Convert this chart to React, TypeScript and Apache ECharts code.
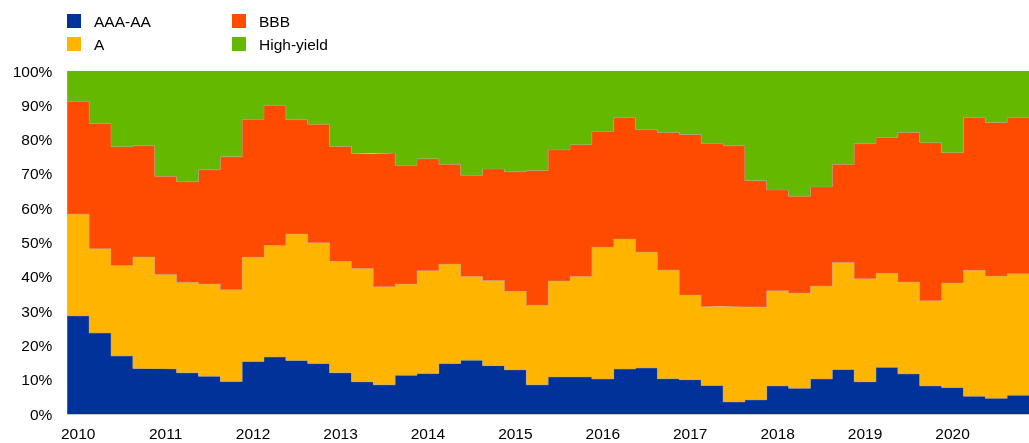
import React, { useEffect, useRef } from "react";
import * as echarts from "echarts";

const quarters: string[] = [];
for (let y = 2010; y <= 2020; y++) for (let q = 1; q <= 4; q++) quarters.push(`${y} Q${q}`);

const aaaAA = [28.6, 23.6, 16.9, 13.3, 13.1, 12.0, 11.0, 9.5, 15.3, 16.6, 15.6, 14.7, 12.0, 9.4, 8.5, 11.3, 11.8, 14.7, 15.7, 14.1, 12.9, 8.5, 10.8, 10.8, 10.2, 13.1, 13.4, 10.3, 10.0, 8.3, 3.5, 4.1, 8.2, 7.5, 10.2, 13.0, 9.4, 13.6, 11.7, 8.2, 7.7, 5.2, 4.6, 5.5];
const ratedA = [29.7, 24.6, 26.4, 32.5, 27.6, 26.4, 26.9, 26.7, 30.4, 32.5, 36.9, 35.2, 32.5, 33.0, 28.6, 26.6, 30.0, 29.0, 24.4, 24.8, 22.9, 23.2, 28.0, 29.3, 38.4, 37.9, 33.8, 31.7, 24.7, 23.0, 27.9, 27.1, 27.7, 27.8, 27.1, 31.2, 30.0, 27.4, 26.8, 24.8, 30.5, 36.7, 35.6, 35.4];
const bbb = [32.9, 36.5, 34.6, 32.4, 28.6, 29.3, 33.3, 38.8, 40.2, 40.9, 33.3, 34.6, 33.5, 33.5, 39.0, 34.6, 32.6, 29.1, 29.5, 32.5, 34.8, 39.3, 38.2, 38.4, 33.8, 35.4, 35.7, 40.1, 46.8, 47.6, 46.8, 36.8, 29.4, 28.2, 28.9, 28.6, 39.4, 39.6, 43.6, 46.1, 38.0, 44.5, 44.8, 45.5];
const highYield = [8.8, 15.3, 22.1, 21.8, 30.7, 32.3, 28.8, 25.0, 14.1, 10.0, 14.2, 15.5, 22.0, 24.1, 23.9, 27.5, 25.6, 27.2, 30.4, 28.6, 29.4, 29.0, 23.0, 21.5, 17.6, 13.6, 17.1, 17.9, 18.5, 21.1, 21.8, 32.0, 34.7, 36.5, 33.8, 27.2, 21.2, 19.4, 17.9, 20.9, 23.8, 13.6, 15.0, 13.6];

const seriesNames = ["AAA-AA", "A", "BBB", "High-yield"];
const seriesValues = [aaaAA, ratedA, bbb, highYield];
const colors = ["#003299", "#FFB400", "#FF4B00", "#65B800"];

const FONT = "Arial, 'Liberation Sans', sans-serif";

export default function App() {
  const ref = useRef<HTMLDivElement>(null);
  useEffect(() => {
    if (!ref.current) return;
    const chart = echarts.init(ref.current, undefined, { renderer: "svg" });
    const edges = quarters.map((_, i) => String(i)).concat([String(quarters.length)]);
    const series = seriesValues.map((vals, si) => {
      const data = vals.slice();
      data.push(vals[vals.length - 1]);
      return {
        name: seriesNames[si],
        type: "line",
        step: "end",
        stack: "total",
        xAxisIndex: 1,
        yAxisIndex: 0,
        showSymbol: false,
        symbol: "none",
        data,
        itemStyle: { color: colors[si] },
        lineStyle: si === 3 ? { width: 0 } : { width: 0.8, color: "rgba(160,160,160,0.6)" },
        areaStyle: { color: colors[si], opacity: 1 },
      };
    });
    const legendBase = {
      orient: "vertical",
      top: 13,
      itemWidth: 14,
      itemHeight: 14,
      itemGap: 7,
      padding: 0,
      icon: "rect",
      textStyle: { fontSize: 15.5, fontFamily: FONT, color: "#000", padding: [0, 0, 0, 8] },
    };
    chart.setOption({
      animation: false,
      textStyle: { fontFamily: FONT },
      legend: [
        { ...legendBase, left: 67, data: ["AAA-AA", "A"] },
        { ...legendBase, left: 232, data: ["BBB", "High-yield"] },
      ],
      grid: { left: 67.3, right: -0.6, top: 71, height: 343 },
      xAxis: [
        {
          type: "category",
          data: quarters,
          boundaryGap: true,
          axisTick: { show: false },
          axisLine: { show: true, lineStyle: { color: "#c8c8c8", width: 1 } },
          axisLabel: {
            interval: 3,
            formatter: (v: string) => v.slice(0, 4),
            fontSize: 15.5,
            fontFamily: FONT,
            color: "#000",
            margin: 11,
          },
          splitLine: { show: false },
        },
        { type: "category", data: edges, boundaryGap: false, show: false },
      ],
      yAxis: {
        type: "value",
        min: 0,
        max: 100,
        interval: 10,
        axisLine: { show: true, lineStyle: { color: "#c8c8c8", width: 1 } },
        axisTick: { show: false },
        splitLine: { show: false },
        axisLabel: { formatter: "{value}%", fontSize: 15.5, fontFamily: FONT, color: "#000", margin: 15 },
      },
      series,
    });
    return () => chart.dispose();
  }, []);
  return <div ref={ref} style={{ position: "fixed", left: 0, top: 0, width: 1029, height: 443 }} />;
}
